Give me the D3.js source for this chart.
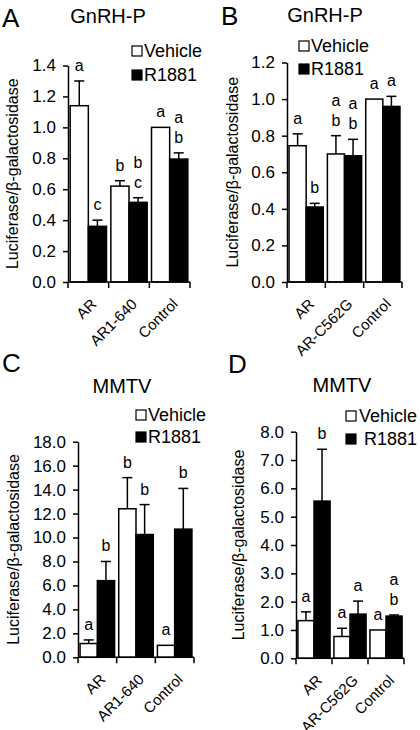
<!DOCTYPE html>
<html><head><meta charset="utf-8">
<script src="https://cdn.jsdelivr.net/npm/d3@7"></script>
<style>body{margin:0;background:#fff} text{font-family:"Liberation Sans",Arial,sans-serif;fill:#000}</style>
</head><body><svg id="c" width="420" height="730"></svg>
<script>
const seriesNames = ["Vehicle", "R1881"];

const categoriesA = ["AR", "AR1-640", "Control"];
const vehicleA = [1.14, 0.62, 1.00];
const vehicleErrA = [0.16, 0.035, 0];
const r1881A = [0.36, 0.515, 0.795];
const r1881ErrA = [0.04, 0.03, 0.04];
const vehicleLettersA = [["a"], ["b"], ["a"]];
const r1881LettersA = [["c"], ["b", "c"], ["a", "b"]];
const yTicksA = [0, 0.2, 0.4, 0.6, 0.8, 1.0, 1.2, 1.4];

const categoriesB = ["AR", "AR-C562G", "Control"];
const vehicleB = [0.745, 0.70, 1.00];
const vehicleErrB = [0.065, 0.10, 0];
const r1881B = [0.41, 0.69, 0.96];
const r1881ErrB = [0.02, 0.09, 0.055];
const vehicleLettersB = [["a"], ["a", "b"], ["a"]];
const r1881LettersB = [["b"], ["a", "b"], ["a"]];
const yTicksB = [0, 0.2, 0.4, 0.6, 0.8, 1.0, 1.2];

const categoriesC = ["AR", "AR1-640", "Control"];
const vehicleC = [1.15, 12.4, 1.0];
const vehicleErrC = [0.3, 2.6, 0];
const r1881C = [6.4, 10.25, 10.7];
const r1881ErrC = [1.6, 2.5, 3.4];
const vehicleLettersC = [["a"], ["b"], ["a"]];
const r1881LettersC = [["b"], ["b"], ["b"]];
const yTicksC = [0, 2, 4, 6, 8, 10, 12, 14, 16, 18];

const categoriesD = ["AR", "AR-C562G", "Control"];
const vehicleD = [1.33, 0.77, 1.0];
const vehicleErrD = [0.31, 0.29, 0];
const r1881D = [5.55, 1.56, 1.49];
const r1881ErrD = [1.83, 0.46, 0.04];
const vehicleLettersD = [["a"], ["a"], ["a"]];
const r1881LettersD = [["b"], ["a"], ["a", "b"]];
const yTicksD = [0, 1, 2, 3, 4, 5, 6, 7, 8];

const yLabel = "Luciferase/β-galactosidase";

const panels = [
  {tag: "A", title: "GnRH-P", cats: categoriesA, veh: vehicleA, vehErr: vehicleErrA, r: r1881A, rErr: r1881ErrA,
   vehLet: vehicleLettersA, rLet: r1881LettersA, ticks: yTicksA,
   L: 68, R: 190, T: 65.5, B: 282, tagX: 2, tagY: 27, titleX: 108, titleY: 23, legX: 132, legY: [51, 75], legGap: 12, ylabX: 12},
  {tag: "B", title: "GnRH-P", cats: categoriesB, veh: vehicleB, vehErr: vehicleErrB, r: r1881B, rErr: r1881ErrB,
   vehLet: vehicleLettersB, rLet: r1881LettersB, ticks: yTicksB,
   L: 287, R: 402, T: 62.5, B: 282, tagX: 221, tagY: 25, titleX: 325, titleY: 22, legX: 299, legY: [46, 69], legGap: 12, ylabX: 232},
  {tag: "C", title: "MMTV", cats: categoriesC, veh: vehicleC, vehErr: vehicleErrC, r: r1881C, rErr: r1881ErrC,
   vehLet: vehicleLettersC, rLet: r1881LettersC, ticks: yTicksC,
   L: 78, R: 194, T: 441.7, B: 657.3, tagX: 2, tagY: 372, titleX: 122, titleY: 393, legX: 136, legY: [415, 437], legGap: 12, ylabX: 13},
  {tag: "D", title: "MMTV", cats: categoriesD, veh: vehicleD, vehErr: vehicleErrD, r: r1881D, rErr: r1881ErrD,
   vehLet: vehicleLettersD, rLet: r1881LettersD, ticks: yTicksD,
   L: 296, R: 404, T: 431.7, B: 658.3, tagX: 228, tagY: 373, titleX: 342, titleY: 392, legX: 346, legY: [416, 439], legGap: 13, ylabX: 238}
];

const svg = d3.select("#c");

panels.forEach(p => {
  const g = svg.append("g");
  const y = d3.scaleLinear().domain([0, d3.max(p.ticks)]).range([p.B, p.T]);
  const x0 = d3.scaleBand().domain(p.cats).range([p.L, p.R]).paddingInner(0).paddingOuter(0);
  const x1 = d3.scaleBand().domain(seriesNames).range([0, x0.bandwidth()]).paddingInner(0).paddingOuter(0.12);

  p.cats.forEach((c, i) => {
    const vals = [
      {s: "Vehicle", v: p.veh[i], e: p.vehErr[i], let: p.vehLet[i], fill: "#fff"},
      {s: "R1881", v: p.r[i], e: p.rErr[i], let: p.rLet[i], fill: "#000"}
    ];
    vals.forEach(d => {
      const bx = x0(c) + x1(d.s);
      const bw = x1.bandwidth();
      g.append("rect").attr("x", bx).attr("y", y(d.v)).attr("width", bw).attr("height", y(0) - y(d.v))
        .attr("fill", d.fill).attr("stroke", "#000").attr("stroke-width", 1.5);
      const cx = bx + bw / 2;
      if (d.e > 0) {
        g.append("line").attr("x1", cx).attr("x2", cx).attr("y1", y(d.v)).attr("y2", y(d.v + d.e))
          .attr("stroke", "#000").attr("stroke-width", 1.5);
        g.append("line").attr("x1", cx - 5).attr("x2", cx + 5).attr("y1", y(d.v + d.e)).attr("y2", y(d.v + d.e))
          .attr("stroke", "#000").attr("stroke-width", 1.5);
      }
      const topY = y(d.v + d.e) - 10;
      const n = d.let.length;
      d.let.forEach((t, k) => {
        g.append("text").attr("x", cx).attr("y", topY - (n - 1 - k) * 20)
          .attr("text-anchor", "middle").attr("font-size", 16).text(t);
      });
    });
  });

  const fmt = d3.format(".1f");
  const ya = g.append("g").attr("transform", `translate(${p.L},0)`)
    .call(d3.axisLeft(y).tickValues(p.ticks).tickFormat(fmt).tickSize(5).tickPadding(7).tickSizeOuter(0));
  ya.select(".domain").attr("stroke-width", 1.5);
  ya.selectAll(".tick line").attr("stroke-width", 1.5);
  ya.selectAll(".tick text").attr("font-size", 17).attr("font-family", "Liberation Sans, Arial, sans-serif");

  g.append("line").attr("x1", p.L).attr("x2", p.R).attr("y1", p.B).attr("y2", p.B)
    .attr("stroke", "#000").attr("stroke-width", 1.5);
  const bounds = p.cats.map(c => x0(c)).concat([x0(p.cats[p.cats.length - 1]) + x0.bandwidth()]);
  bounds.forEach(b => {
    g.append("line").attr("x1", b).attr("x2", b).attr("y1", p.B).attr("y2", p.B + 6)
      .attr("stroke", "#000").attr("stroke-width", 1.5);
  });
  p.cats.forEach(c => {
    const cx = x0(c) + x0.bandwidth() / 2;
    g.append("text").attr("transform", `translate(${cx + 9},${p.B + 23}) rotate(-45)`)
      .attr("text-anchor", "end").attr("font-size", 15).text(c);
  });

  g.append("text").attr("transform", `translate(${p.ylabX},${(p.T + p.B) / 2}) rotate(-90)`)
    .attr("text-anchor", "middle").attr("dominant-baseline", "central").attr("font-size", 16).text(yLabel);

  g.append("text").attr("x", p.titleX).attr("y", p.titleY).attr("text-anchor", "middle").attr("font-size", 20).text(p.title);
  g.append("text").attr("x", p.tagX).attr("y", p.tagY).attr("font-size", 26).text(p.tag);

  seriesNames.forEach((s, k) => {
    const ly = p.legY[k];
    g.append("rect").attr("x", p.legX).attr("y", ly - 5).attr("width", 10).attr("height", 10)
      .attr("fill", k === 0 ? "#fff" : "#000").attr("stroke", "#000").attr("stroke-width", 1.2);
    g.append("text").attr("x", p.legX + p.legGap + (k === 1 && p.tag === "D" ? 5 : 0)).attr("y", ly)
      .attr("dominant-baseline", "central").attr("font-size", 18).text(s);
  });
});
</script></body></html>
